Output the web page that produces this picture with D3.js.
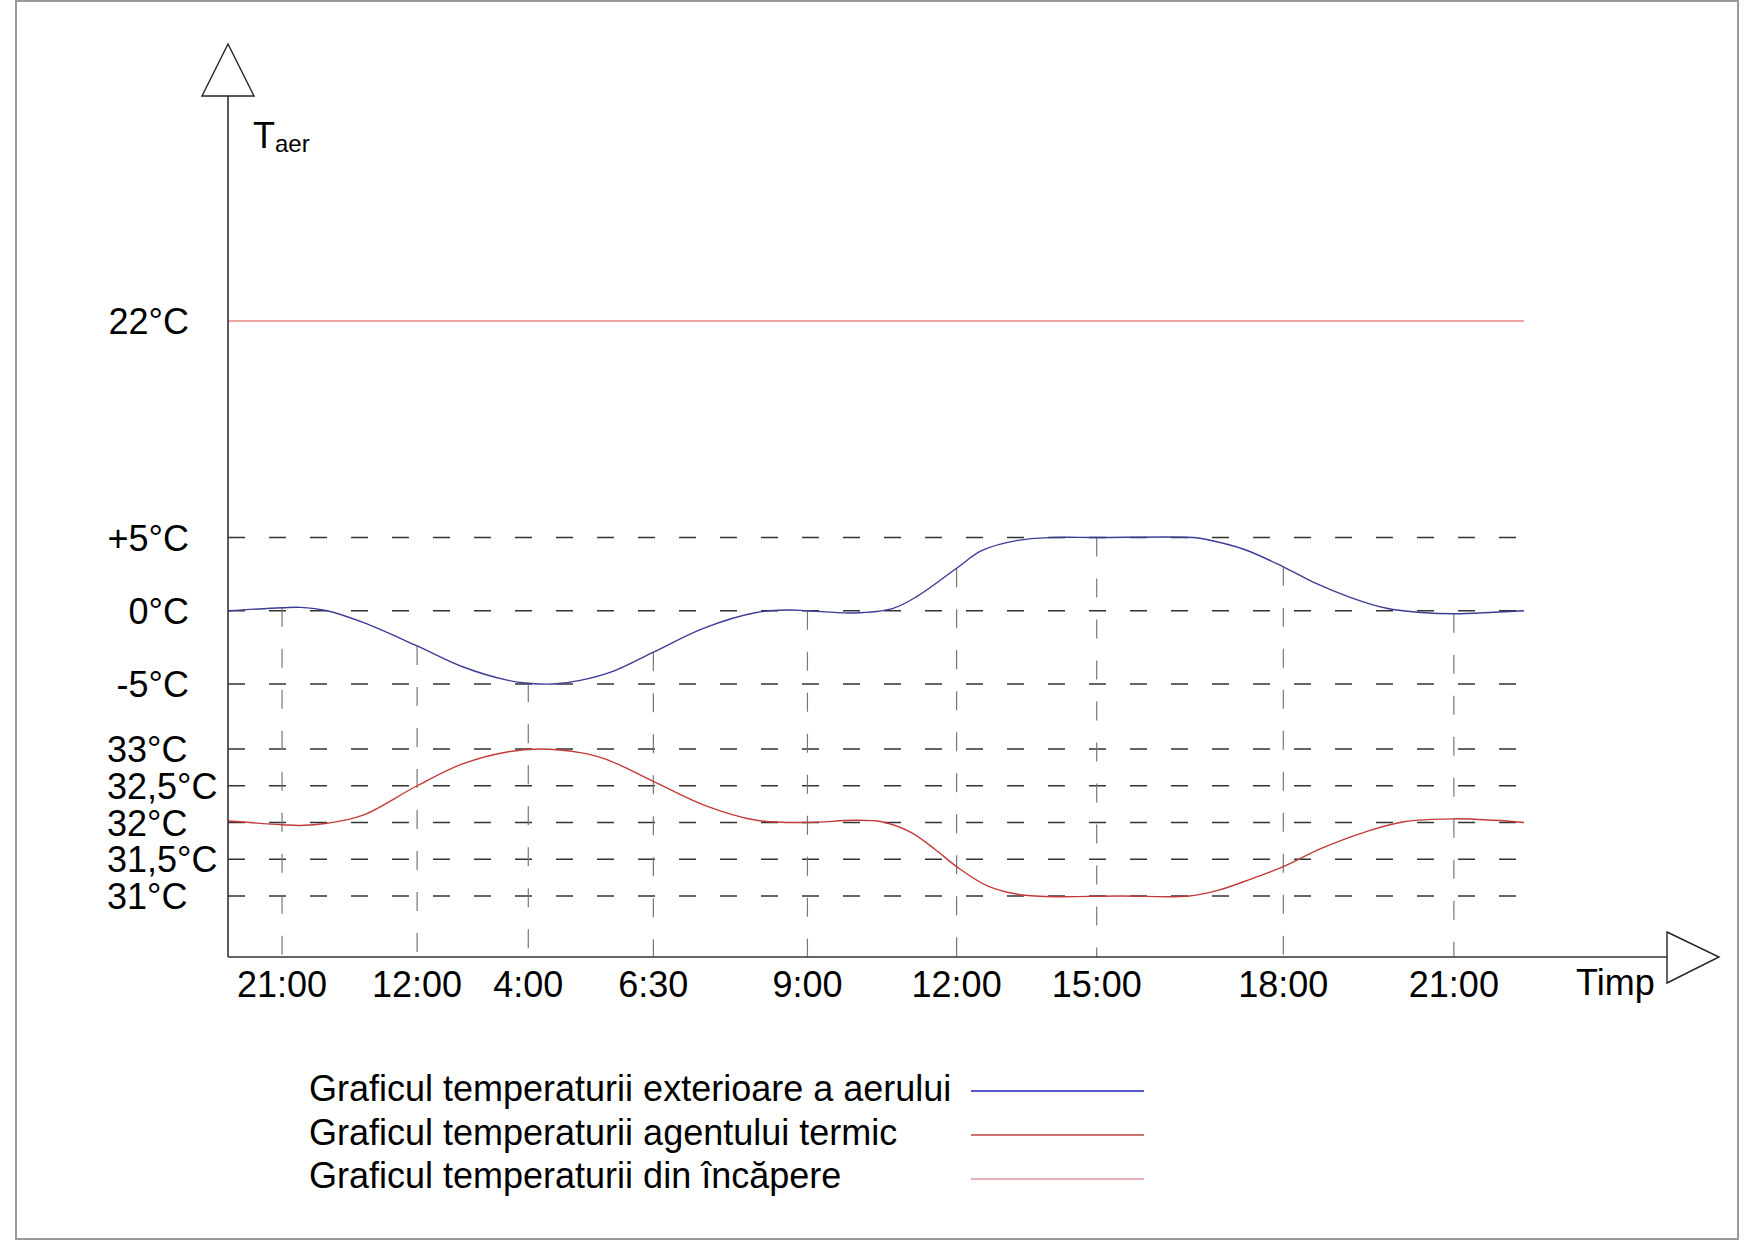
<!DOCTYPE html>
<html>
<head>
<meta charset="utf-8">
<script type="text/javascript" src="https://d3js.org/d3.v7.min.js"></script>
<title>Graficul temperaturii</title>
<style>
  body { margin: 0; background: #fff; }
  text { font-family: "Liberation Sans", Arial, sans-serif; fill: #000; }
</style>
</head>
<body>
<div id="chart"></div>
<script type="text/javascript">
// time axis labels and where they sit along the axis (0..100 of the drawn length)
var timeLabels = ["21:00", "12:00", "4:00", "6:30", "9:00", "12:00", "15:00", "18:00", "21:00"];
var timePos    = [4.17, 14.59, 23.17, 32.82, 44.71, 56.22, 67.03, 81.43, 94.59];

// upper block: outside air, lower block: heating agent
var upperTicks = [5, 0, -5];
var upperLabels = ["+5°C", "0°C", "-5°C"];
var lowerTicks = [33, 32.5, 32, 31.5, 31];
var lowerLabels = ["33°C", "32,5°C", "32°C", "31,5°C", "31°C"];
var roomTemp = 22;
var roomLabel = "22°C";

// [position, °C]
var airTemp = [
  [0, 0], [4.17, 0.2], [5.56, 0.23], [7.65, 0.0], [10.42, -0.8], [14.59, -2.4],
  [18.15, -3.84], [21.54, -4.74], [23.17, -4.95], [25.1, -5.0], [27.18, -4.75],
  [29.8, -4.1], [32.82, -2.83], [36.68, -1.2], [40.77, -0.12], [43.28, 0.05],
  [44.71, 0.0], [48.24, -0.15], [51.27, 0.15], [53.2, 1.0], [56.22, 2.9],
  [58.15, 4.1], [60.93, 4.8], [63.71, 5.0], [67.03, 5.0], [74.52, 5.0],
  [75.6, 4.85], [78.38, 4.2], [81.43, 3.0], [83.86, 1.9], [86.64, 0.9],
  [89.39, 0.17], [92.12, -0.12], [94.59, -0.2], [97.66, -0.1], [100, 0]
];
var agentTemp = [
  [0, 32.02], [4.17, 31.97], [5.56, 31.96], [7.65, 31.99], [10.42, 32.1],
  [14.59, 32.5], [18.15, 32.8], [21.54, 32.96], [24.09, 33.0], [27.18, 32.95],
  [29.19, 32.86], [32.82, 32.56], [36.68, 32.24], [40.77, 32.03], [44.71, 32.0],
  [48.26, 32.03], [50.42, 32.01], [52.66, 31.87], [54.59, 31.63], [56.22, 31.4],
  [58.69, 31.13], [61.47, 31.01], [68.88, 31.0], [74.2, 31.0], [76.45, 31.08],
  [78.92, 31.23], [81.43, 31.4], [84.4, 31.65], [87.72, 31.87], [90.73, 32.01],
  [94.59, 32.05], [97.68, 32.03], [100, 32.0]
];

var legendNames = ["Graficul temperaturii exterioare a aerului",
                   "Graficul temperaturii agentului termic",
                   "Graficul temperaturii din încăpere"];

var w = 1755, h = 1240;
var x0 = 228, xAxisY = 957;
var blue = "#3b3b98", red = "#c23a3a", pink = "#e98585";

var svg = d3.select("#chart").append("svg")
    .attr("width", w).attr("height", h);

// frame
svg.append("rect")
   .attr("x", 16).attr("y", 1).attr("width", 1722).attr("height", 1238)
   .attr("fill", "none").attr("stroke", "#9a9a9a").attr("stroke-width", 2);

var x = d3.scaleLinear().domain([0, 100]).range([x0, 1524]);
var yA = d3.scaleLinear().domain([-5, 5, 22]).range([684, 537.5, 321]);
var yB = d3.scaleLinear().domain([31, 33]).range([896, 749]);

// horizontal dashed grid
svg.selectAll("line.hA").data(upperTicks).enter().append("line")
   .attr("x1", x(0)).attr("x2", x(100))
   .attr("y1", function(d) { return yA(d); }).attr("y2", function(d) { return yA(d); })
   .attr("stroke", "#333").attr("stroke-width", 1.3).attr("stroke-dasharray", "17,24");
svg.selectAll("line.hB").data(lowerTicks).enter().append("line")
   .attr("x1", x(0)).attr("x2", x(100))
   .attr("y1", function(d) { return yB(d); }).attr("y2", function(d) { return yB(d); })
   .attr("stroke", "#333").attr("stroke-width", 1.3).attr("stroke-dasharray", "17,24");

// vertical drop lines from the air curve to the time axis
function airAt(p) {
  var pt = airTemp.find(function(d) { return d[0] === p; });
  return pt ? pt[1] : 0;
}
svg.selectAll("line.v").data(timePos).enter().append("line")
   .attr("x1", function(d) { return x(d); }).attr("x2", function(d) { return x(d); })
   .attr("y1", function(d) { return yA(airAt(d)); }).attr("y2", xAxisY)
   .attr("stroke", "#777").attr("stroke-width", 1.2).attr("stroke-dasharray", "19,22");

// room temperature line
svg.append("line")
   .attr("x1", x(0)).attr("x2", x(100))
   .attr("y1", yA(roomTemp)).attr("y2", yA(roomTemp))
   .attr("stroke", pink).attr("stroke-width", 1.3);

// curves
var lineA = d3.line().curve(d3.curveCatmullRom.alpha(0.5))
    .x(function(d) { return x(d[0]); }).y(function(d) { return yA(d[1]); });
var lineB = d3.line().curve(d3.curveCatmullRom.alpha(0.5))
    .x(function(d) { return x(d[0]); }).y(function(d) { return yB(d[1]); });
svg.append("path").attr("d", lineA(airTemp))
   .attr("fill", "none").attr("stroke", blue).attr("stroke-width", 1.4);
svg.append("path").attr("d", lineB(agentTemp))
   .attr("fill", "none").attr("stroke", red).attr("stroke-width", 1.4);

// axes with open arrow heads
svg.append("line").attr("x1", x0).attr("x2", x0).attr("y1", 96).attr("y2", xAxisY)
   .attr("stroke", "#333").attr("stroke-width", 1.6);
svg.append("line").attr("x1", x0).attr("x2", 1667).attr("y1", xAxisY).attr("y2", xAxisY)
   .attr("stroke", "#333").attr("stroke-width", 1.6);
svg.append("path").attr("d", "M202,96 L228,44 L254,96 Z")
   .attr("fill", "#fff").attr("stroke", "#222").attr("stroke-width", 1.4);
svg.append("path").attr("d", "M1667,932 L1719,957 L1667,983 Z")
   .attr("fill", "#fff").attr("stroke", "#222").attr("stroke-width", 1.4);

// axis titles
var ttl = svg.append("text").attr("x", 253).attr("y", 148).style("font-size", "36px");
ttl.append("tspan").text("T");
ttl.append("tspan").attr("dy", 4).style("font-size", "24px").text("aer");
svg.append("text").attr("x", 1576).attr("y", 995).style("font-size", "36px").text("Timp");

// y labels
svg.selectAll("text.uA").data(upperTicks).enter().append("text")
   .attr("x", 189).attr("y", function(d) { return yA(d) + 13; })
   .attr("text-anchor", "end").style("font-size", "36px")
   .text(function(d, i) { return upperLabels[i]; });
svg.append("text").attr("x", 189).attr("y", yA(roomTemp) + 13)
   .attr("text-anchor", "end").style("font-size", "36px").text(roomLabel);
svg.selectAll("text.uB").data(lowerTicks).enter().append("text")
   .attr("x", 107).attr("y", function(d) { return yB(d) + 13; })
   .style("font-size", "36px")
   .text(function(d, i) { return lowerLabels[i]; });

// time labels
svg.selectAll("text.t").data(timePos).enter().append("text")
   .attr("x", function(d) { return x(d); }).attr("y", 997)
   .attr("text-anchor", "middle").style("font-size", "36px")
   .text(function(d, i) { return timeLabels[i]; });

// legend
var legendColors = ["#5656cc", "#c87272", "#e4b2b2"];
svg.selectAll("text.lg").data(legendNames).enter().append("text")
   .attr("x", 309).attr("y", function(d, i) { return 1101 + i * 43.5; })
   .style("font-size", "36px")
   .text(function(d) { return d; });
svg.selectAll("line.lg").data(legendColors).enter().append("line")
   .attr("x1", 971).attr("x2", 1144)
   .attr("y1", function(d, i) { return 1091 + i * 44; })
   .attr("y2", function(d, i) { return 1091 + i * 44; })
   .attr("stroke", function(d) { return d; }).attr("stroke-width", 2);
</script>
</body>
</html>
